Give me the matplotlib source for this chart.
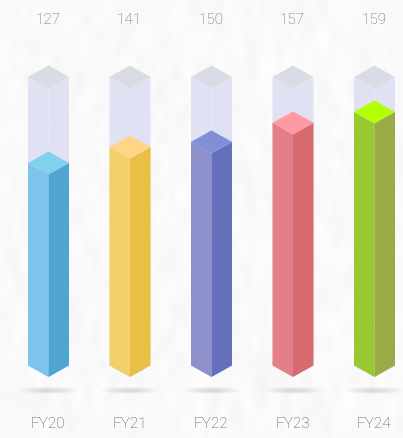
import numpy as np
import matplotlib
matplotlib.use('Agg')
import matplotlib.pyplot as plt
from matplotlib.patches import Polygon, Ellipse

years = ['FY20', 'FY21', 'FY22', 'FY23', 'FY24']
values = [127, 141, 150, 157, 159]
# how full each column looks (not proportional to the labels)
fill_share = [0.702, 0.757, 0.775, 0.841, 0.879]

left_colors = ['#7DC4EC', '#F2D06B', '#8D90CA', '#E27F88', '#9AC831']
right_colors = ['#4FA5D2', '#E9BF45', '#6570BA', '#D76B70', '#9CAA45']
top_colors = ['#80D1EC', '#FFD685', '#828FD8', '#FF9AA2', '#B4FF05']

W, H = 403, 438
x0 = 48.5
step = 81.5
half_w = 20.5
half_d = 11.5
y_top = 77
y_bottom = 365.5

fig = plt.figure(figsize=(W / 100, H / 100), dpi=100)
ax = fig.add_axes([0, 0, 1, 1])
ax.set_xlim(0, W)
ax.set_ylim(H, 0)
ax.axis('off')

# paper texture for the background
rng = np.random.default_rng(3)
paper = rng.normal(size=(H, W))
for size, axis in [(21, 0), (9, 1), (9, 0), (5, 1)]:
    kernel = np.ones(size) / size
    paper = np.apply_along_axis(lambda r: np.convolve(r, kernel, mode='same'), axis, paper)
paper = paper / paper.std()
ax.imshow(249 + 1.3 * paper, cmap='gray', vmin=0, vmax=255, extent=[0, W, H, 0], aspect='auto', zorder=0)


def box(cx, top, bottom, c_left, c_right, c_top, z):
    ax.add_patch(Polygon([(cx - half_w, top), (cx, top + half_d), (cx, bottom + half_d), (cx - half_w, bottom)],
                         fc=c_left, ec='none', zorder=z))
    ax.add_patch(Polygon([(cx + half_w, top), (cx, top + half_d), (cx, bottom + half_d), (cx + half_w, bottom)],
                         fc=c_right, ec='none', zorder=z))
    ax.add_patch(Polygon([(cx - half_w, top), (cx, top - half_d), (cx + half_w, top), (cx, top + half_d)],
                         fc=c_top, ec='none', zorder=z + 0.1))


for i, year in enumerate(years):
    cx = x0 + step * i
    # soft shadow under the column
    for k in range(12):
        ax.add_patch(Ellipse((cx, 390.5), 60 - k * 4.5, 7 - k * 0.5, fc='#9a9a9a', ec='none', alpha=0.028, zorder=1))

    box(cx, y_top, y_bottom, '#E0E1F2', '#E0E1F2', '#DADCE5', 2)
    ax.plot([cx, cx], [y_top + half_d, y_bottom], color='#E5E6F4', lw=0.5, zorder=2.05)

    level = y_bottom - fill_share[i] * (y_bottom - y_top)
    box(cx, level, y_bottom, left_colors[i], right_colors[i], top_colors[i], 3)

    ax.text(cx - 0.5, 20.5, str(values[i]), ha='center', va='center', fontsize=11, family='Roboto',
            fontweight='light', color='#666666', zorder=5)
    ax.text(cx - 0.5, 424.5, year, ha='center', va='center', fontsize=11, family='Roboto',
            fontweight='light', color='#505050', zorder=5)

fig.savefig('out.png', dpi=100)
